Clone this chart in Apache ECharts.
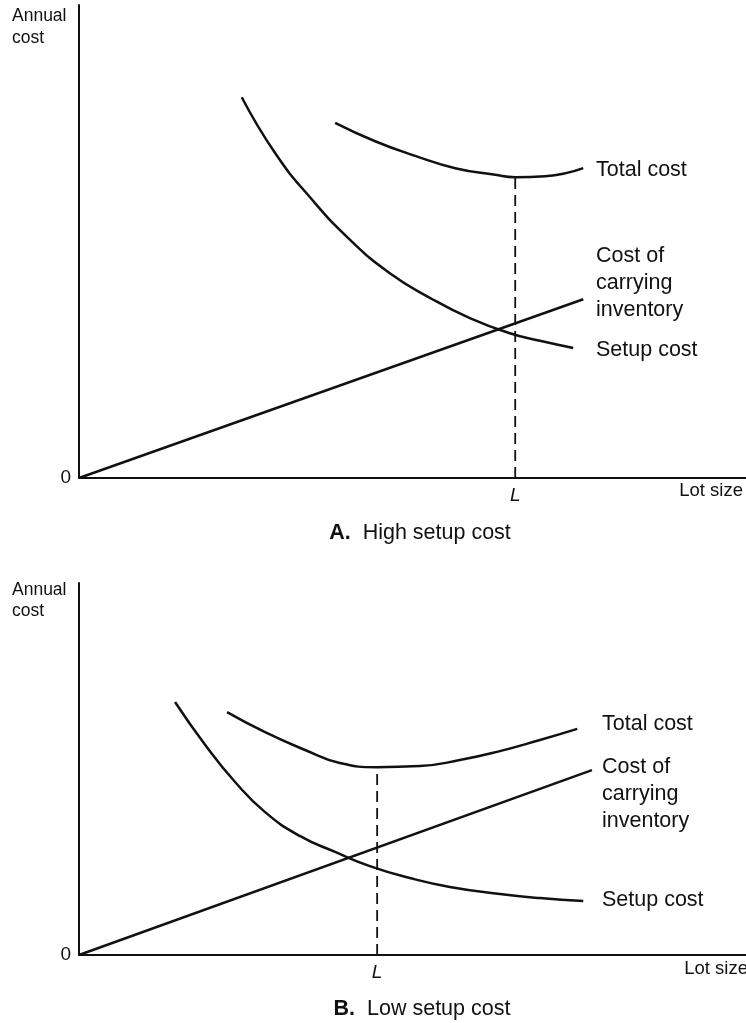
<!DOCTYPE html>
<html>
<head>
<meta charset="utf-8">
<script src="https://cdn.jsdelivr.net/npm/echarts@6/dist/echarts.min.js"></script>
<style>
html,body{margin:0;padding:0;background:#fff;}
#chart{width:746px;height:1023px;}
</style>
</head>
<body>
<div id="chart"></div>
<script>
// A. high setup cost  (x = lot size, y = annual cost, both 0..100)
var setupA = [[24.4,80.5],[29.4,68.7],[34.6,59.4],[40.6,50.4],[46.6,43.3],[52.6,38.1],[58.6,33.8],[64.6,30.6],[69.1,29.0],[74.1,27.5]];
var totalA = [[38.4,75.1],[44.4,71.2],[50.4,68.1],[56.4,65.5],[62.4,64.1],[65.4,63.6],[69.9,63.8],[75.6,65.5]];
var carryA = [[0,0],[75.6,37.8]];
var lotA = 65.4, lotCostA = 63.6;

// B. low setup cost
var setupB = [[14.4,68.0],[18.9,56.5],[23.4,46.5],[27.9,38.4],[33.1,32.0],[38.4,27.7],[43.6,23.9],[49.6,20.7],[55.6,18.3],[63.1,16.4],[69.1,15.3],[75.6,14.5]];
var totalB = [[22.2,65.3],[27.9,59.9],[33.9,55.1],[39.1,51.6],[44.7,50.5],[51.1,50.8],[57.1,52.4],[63.1,54.8],[69.1,57.8],[74.7,60.8]];
var carryB = [[0,0],[76.9,49.7]];
var lotB = 44.7, lotCostB = 50.5;

var xTick = 'L', yTick = '0';

var FONT = '"Liberation Sans", Arial, Helvetica, sans-serif';
var INK = '#111';

var chart = echarts.init(document.getElementById('chart'));

function xAx(idx, lot){
    return {
        type:'value', gridIndex:idx, min:0, max:100,
        axisLine:{show:true, onZero:false, lineStyle:{color:INK, width:2}},
        axisTick:{show:false},
        splitLine:{show:false},
        axisLabel:{
            customValues:[lot],
            formatter:function(){ return xTick },
            color:INK, fontSize:19, fontStyle:'italic', fontFamily:FONT, margin:8
        }
    }
}
function yAx(idx){
    return {
        type:'value', gridIndex:idx, min:0, max:100,
        axisLine:{show:true, onZero:false, lineStyle:{color:INK, width:2}},
        axisTick:{show:false},
        splitLine:{show:false},
        axisLabel:{
            customValues:[0],
            formatter:function(){ return yTick },
            color:INK, fontSize:19, fontFamily:FONT, margin:8
        }
    }
}
function curve(idx, data){
    return {
        type:'line', xAxisIndex:idx, yAxisIndex:idx, data:data,
        smooth:0.5, symbol:'none', silent:true,
        lineStyle:{color:INK, width:2.5}
    }
}
function dashed(idx, lot, top){
    return {
        type:'line', xAxisIndex:idx, yAxisIndex:idx, data:[[lot,0],[lot,top]],
        symbol:'none', silent:true,
        lineStyle:{color:INK, width:1.8, type:[11,6]}
    }
}
function txt(x, y, s, size, extra){
    var st = {text:s, x:x, y:y, fill:INK, font:size + 'px ' + FONT, verticalAlign:'middle'};
    if(extra) Object.assign(st, extra);
    return {type:'text', style:st, silent:true};
}

var option = {
    backgroundColor:'#fff',
    animation:false,
    grid:[
        {left:79, right:0, top:5, bottom:545},
        {left:79, right:0, top:583, bottom:68}
    ],
    xAxis:[xAx(0, lotA), xAx(1, lotB)],
    yAxis:[yAx(0), yAx(1)],
    series:[
        curve(0, setupA), curve(0, totalA), curve(0, carryA), dashed(0, lotA, lotCostA),
        curve(1, setupB), curve(1, totalB), curve(1, carryB), dashed(1, lotB, lotCostB)
    ],
    graphic:[
        // panel A
        txt(12, 16, 'Annual', 17.5),
        txt(12, 38, 'cost', 17.5),
        txt(596, 170, 'Total cost', 21.5),
        txt(596, 243, 'Cost of\ncarrying\ninventory', 21.5, {verticalAlign:'top', lineHeight:27}),
        txt(596, 350, 'Setup cost', 21.5),
        txt(743, 491, 'Lot size', 18.5, {align:'right'}),
        txt(420, 533, '{b|A.}  High setup cost', 21.5, {align:'center', rich:{b:{fontWeight:'bold', fontSize:21.5, fontFamily:FONT, fill:INK}}}),
        // panel B
        txt(12, 590, 'Annual', 17.5),
        txt(12, 611, 'cost', 17.5),
        txt(602, 724, 'Total cost', 21.5),
        txt(602, 754, 'Cost of\ncarrying\ninventory', 21.5, {verticalAlign:'top', lineHeight:27}),
        txt(602, 900, 'Setup cost', 21.5),
        txt(748, 969, 'Lot size', 18.5, {align:'right'}),
        txt(422, 1009, '{b|B.}  Low setup cost', 21.5, {align:'center', rich:{b:{fontWeight:'bold', fontSize:21.5, fontFamily:FONT, fill:INK}}})
    ]
};

chart.setOption(option);
</script>
</body>
</html>
